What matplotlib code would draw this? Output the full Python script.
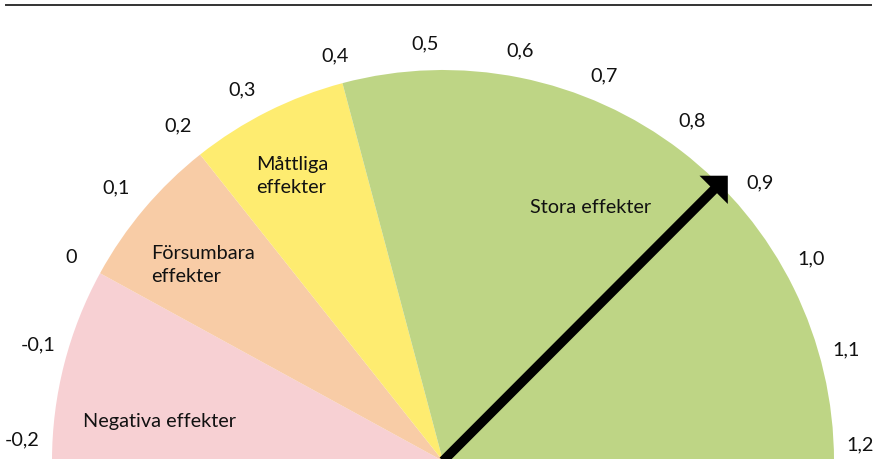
import numpy as np
import matplotlib
matplotlib.use("Agg")
import matplotlib.pyplot as plt
from matplotlib.patches import Wedge, FancyArrow
from matplotlib.lines import Line2D

# ---- data ----
segment_names = ["Negativa effekter", "Försumbara\neffekter", "Måttliga\neffekter", "Stora effekter"]
segment_starts = [-0.2, 0.0, 0.2, 0.4]
segment_ends = [0.0, 0.2, 0.4, 1.2]
segment_colors = ["#F7D0D3", "#F8CCA6", "#FEEC70", "#BED585"]
tick_values = [-0.2, -0.1, 0.0, 0.1, 0.2, 0.3, 0.4, 0.5, 0.6, 0.7, 0.8, 0.9, 1.0, 1.1, 1.2]
tick_labels = ["-0,2", "-0,1", "0", "0,1", "0,2", "0,3", "0,4", "0,5", "0,6", "0,7",
               "0,8", "0,9", "1,0", "1,1", "1,2"]
needle_value = 0.87

# ---- layout (pixel geometry of the figure) ----
W, H = 877, 459
cx_px, cy_px, r_px = 443, 461, 391
# the gauge scale is not uniform: angular position (deg) of each tick value
scale_angles = [180, 164.0, 151.3, 140.1, 128.4, 118.4, 104.9, 92.5, 79.4, 67.3,
                53.8, 41.3, 28.8, 15.4, 0]
label_rad_px = [421, 421, 424, 426, 427, 422, 419, 418, 417, 418, 422, 422, 420, 418, 417]
# segment label placement (angle in degrees, radius relative to gauge radius)
seg_label_pos = [(172.0, 0.733), (140.7, 0.792), (117.8, 0.824), (59.8, 0.750)]
FONT = ["Lato", "DejaVu Sans"]
FS = 14.3


def theta(v):
    return float(np.interp(v, tick_values, scale_angles))


fig = plt.figure(figsize=(W / 100, H / 100), dpi=100)
ax = fig.add_axes([0, 0, 1, 1])
ax.set_xlim(-cx_px / r_px, (W - cx_px) / r_px)
ax.set_ylim((cy_px - H) / r_px, cy_px / r_px)
ax.set_aspect("equal")
ax.axis("off")

for s, e, c in zip(segment_starts, segment_ends, segment_colors):
    ax.add_patch(Wedge((0, 0), 1.0, theta(e), theta(s), facecolor=c, edgecolor="none"))

for (ang, rad), name in zip(seg_label_pos, segment_names):
    a = np.deg2rad(ang)
    ax.text(rad * np.cos(a), rad * np.sin(a), name, ha="center", va="center",
            multialignment="left", fontsize=FS, family=FONT, color="#111111",
            linespacing=1.38)

# tick labels around the gauge (end labels lifted slightly above the baseline)
for v, lab, rp in zip(tick_values, tick_labels, label_rad_px):
    a = np.deg2rad(np.clip(theta(v), 2.2, 177.1))
    r = rp / r_px
    ax.text(r * np.cos(a), r * np.sin(a), lab, ha="center", va="center",
            fontsize=FS, family=FONT, color="#111111")

# needle
t = np.deg2rad(theta(needle_value))
L = 1.031
ax.add_patch(FancyArrow(0, 0, L * np.cos(t), L * np.sin(t), width=9.5 / r_px,
                        head_width=40 / r_px, head_length=20 / r_px,
                        length_includes_head=True, color="black", lw=0))

# top rule
fig.add_artist(Line2D([6 / W, 871 / W], [1 - 5 / H, 1 - 5 / H], color="#333333", lw=1.4))

fig.savefig("out.png", dpi=100)
